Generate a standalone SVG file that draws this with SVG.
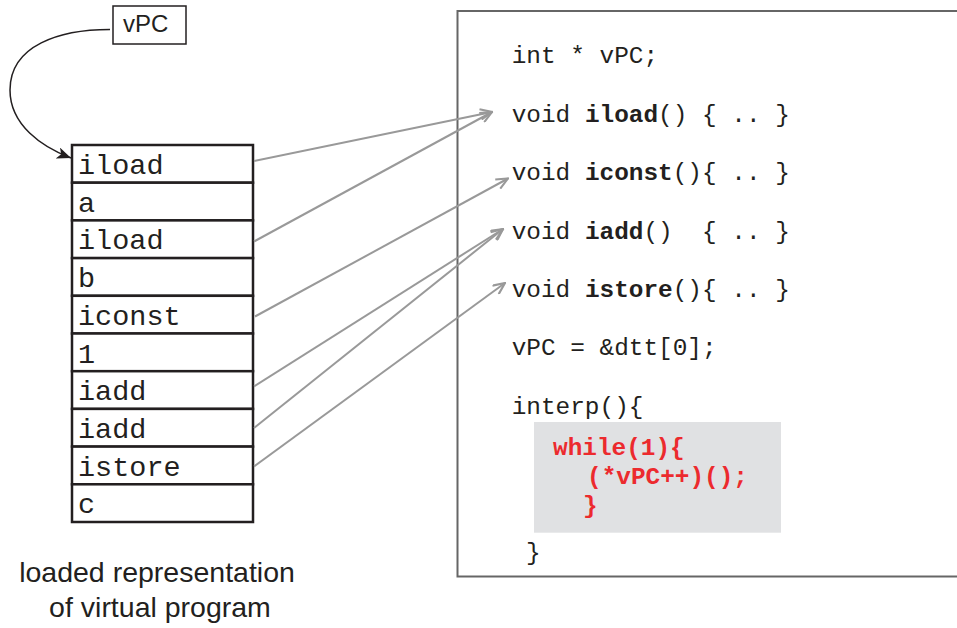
<svg xmlns="http://www.w3.org/2000/svg" width="957" height="628" viewBox="0 0 957 628">
<style>
.cell{fill:#fff;stroke:#231f20;stroke-width:2.5}
.cellt{font-family:"Liberation Mono",monospace;font-size:28.5px;fill:#231f20}
.code{font-family:"Liberation Mono",monospace;font-size:24.4px;fill:#231f20}
.b{font-weight:bold}
.red{font-family:"Liberation Mono",monospace;font-size:24.4px;font-weight:bold;fill:#ec2a2e}
.sans{font-family:"Liberation Sans",Arial,sans-serif;fill:#231f20}
.conn{fill:none;stroke:#999;stroke-width:2;marker-end:url(#open)}
</style>
<defs>
<marker id="open" markerWidth="14" markerHeight="12" refX="11" refY="5" orient="auto" markerUnits="userSpaceOnUse" viewBox="0 0 12 10">
<path d="M1,0.5 L11,5 L1,9.5" fill="none" stroke="#999" stroke-width="1.8"/>
</marker>
<marker id="solid" markerWidth="14" markerHeight="12" refX="12" refY="5" orient="auto" markerUnits="userSpaceOnUse" viewBox="0 0 12 10">
<path d="M0,0 L12,5 L0,10 L3,5 Z" fill="#231f20"/>
</marker>
</defs>

<g id="code-box">
<rect x="457.5" y="11" width="510" height="565.5" fill="#fff" stroke="#666" stroke-width="2"/>
<text class="code" x="511.7" y="63">int * vPC;</text>
<text class="code" x="511.7" y="122" xml:space="preserve">void <tspan class="b">iload</tspan>() { .. }</text>
<text class="code" x="511.7" y="180" xml:space="preserve">void <tspan class="b">iconst</tspan>(){ .. }</text>
<text class="code" x="511.7" y="238.5" xml:space="preserve">void <tspan class="b">iadd</tspan>()  { .. }</text>
<text class="code" x="511.7" y="297" xml:space="preserve">void <tspan class="b">istore</tspan>(){ .. }</text>
<text class="code" x="511.7" y="355">vPC = &amp;dtt[0];</text>
<text class="code" x="511.7" y="414">interp(){</text>
<rect x="534" y="422" width="247" height="110.7" fill="#e0e1e3"/>
<text class="red" x="553" y="455">while(1){</text>
<text class="red" x="587" y="484">(*vPC++)();</text>
<text class="red" x="583" y="513">}</text>
<text class="code" x="526" y="560">}</text>
</g>

<g id="vpc">
<rect x="113" y="6" width="73" height="38" fill="#fff" stroke="#231f20" stroke-width="1.5"/>
<text class="sans" x="123" y="32" font-size="24">vPC</text>
</g>

<g id="stack">
<rect class="cell" x="72" y="145" width="181" height="37.7"/>
<rect class="cell" x="72" y="182.7" width="181" height="37.7"/>
<rect class="cell" x="72" y="220.4" width="181" height="37.7"/>
<rect class="cell" x="72" y="258.1" width="181" height="37.7"/>
<rect class="cell" x="72" y="295.8" width="181" height="37.7"/>
<rect class="cell" x="72" y="333.5" width="181" height="37.7"/>
<rect class="cell" x="72" y="371.2" width="181" height="37.7"/>
<rect class="cell" x="72" y="408.9" width="181" height="37.7"/>
<rect class="cell" x="72" y="446.6" width="181" height="37.7"/>
<rect class="cell" x="72" y="484.3" width="181" height="37.7"/>
<text class="cellt" x="78" y="174">iload</text>
<text class="cellt" x="78" y="211.7">a</text>
<text class="cellt" x="78" y="249.4">iload</text>
<text class="cellt" x="78" y="287.1">b</text>
<text class="cellt" x="78" y="324.8">iconst</text>
<text class="cellt" x="78" y="362.5">1</text>
<text class="cellt" x="78" y="400.2">iadd</text>
<text class="cellt" x="78" y="437.9">iadd</text>
<text class="cellt" x="78" y="475.6">istore</text>
<text class="cellt" x="78" y="513.3">c</text>
</g>

<g id="caption">
<text class="sans" x="157" y="582" font-size="28.5" text-anchor="middle">loaded representation</text>
<text class="sans" x="160" y="617" font-size="28.5" text-anchor="middle">of virtual program</text>
</g>

<g id="connectors">
<path d="M110,29.5 C60,29.5 10,45 10,90 C10,125 42,147 71,158" fill="none" stroke="#231f20" stroke-width="1.5" marker-end="url(#solid)"/>
<line class="conn" x1="254" y1="161" x2="492" y2="112"/>
<line class="conn" x1="254" y1="241.5" x2="492" y2="112"/>
<line class="conn" x1="255" y1="316.5" x2="508" y2="178.5"/>
<line class="conn" x1="254" y1="386.5" x2="503" y2="229"/>
<line class="conn" x1="254" y1="428" x2="503" y2="229"/>
<line class="conn" x1="254" y1="466.5" x2="505" y2="283"/>
</g>
</svg>
